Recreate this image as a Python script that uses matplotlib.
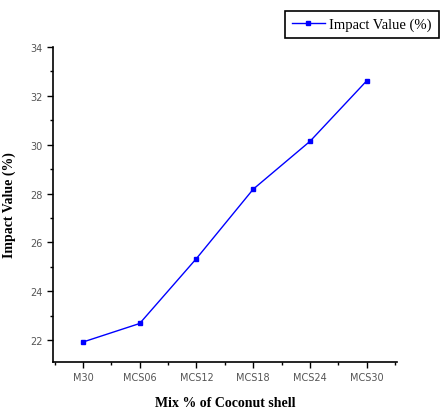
import matplotlib
matplotlib.use("Agg")
import matplotlib.pyplot as plt
from matplotlib.ticker import MultipleLocator

# impact value for each coconut shell replacement mix
mixes = ["M30", "MCS06", "MCS12", "MCS18", "MCS24", "MCS30"]
impact = [21.92, 22.68, 25.34, 28.18, 30.14, 32.62]

fig = plt.figure(figsize=(4.4, 4.14), dpi=100)
ax = fig.add_axes([0.120, 0.123, 0.782, 0.761])

x = list(range(len(mixes)))
ax.plot(x, impact, color="#0000ff", lw=1.0, marker="s", ms=3.5,
        label="Impact Value (%)")

ax.set_xlim(-0.53, 5.53)
ax.set_ylim(21.1, 34)
ax.set_xticks(x)
ax.set_xticklabels(mixes)
ax.xaxis.set_minor_locator(MultipleLocator(0.5))
ax.yaxis.set_major_locator(MultipleLocator(2))
ax.yaxis.set_minor_locator(MultipleLocator(1))

for s in ["top", "right"]:
    ax.spines[s].set_visible(False)
for s in ["left", "bottom"]:
    ax.spines[s].set_linewidth(1.2)

ax.tick_params(which="major", direction="out", length=4, width=1.0,
               labelsize=7, labelcolor="#555555")
ax.tick_params(which="minor", direction="out", length=2, width=1.0)

ax.set_xlabel("Mix % of Coconut shell", family="Liberation Serif",
              fontweight="bold", fontsize=10, labelpad=10)
ax.set_ylabel("Impact Value (%)", family="Liberation Serif",
              fontweight="bold", fontsize=10, labelpad=10)

leg = fig.legend(loc="upper left", bbox_to_anchor=(285 / 440, 1 - 12 / 414),
                 fancybox=False, edgecolor="black", framealpha=1,
                 prop={"family": "Liberation Serif", "size": 10.5},
                 handlelength=2.3, borderaxespad=0, borderpad=0.45,
                 handletextpad=0.3)
leg.get_frame().set_linewidth(1.2)

fig.savefig("out.png", dpi=100)
